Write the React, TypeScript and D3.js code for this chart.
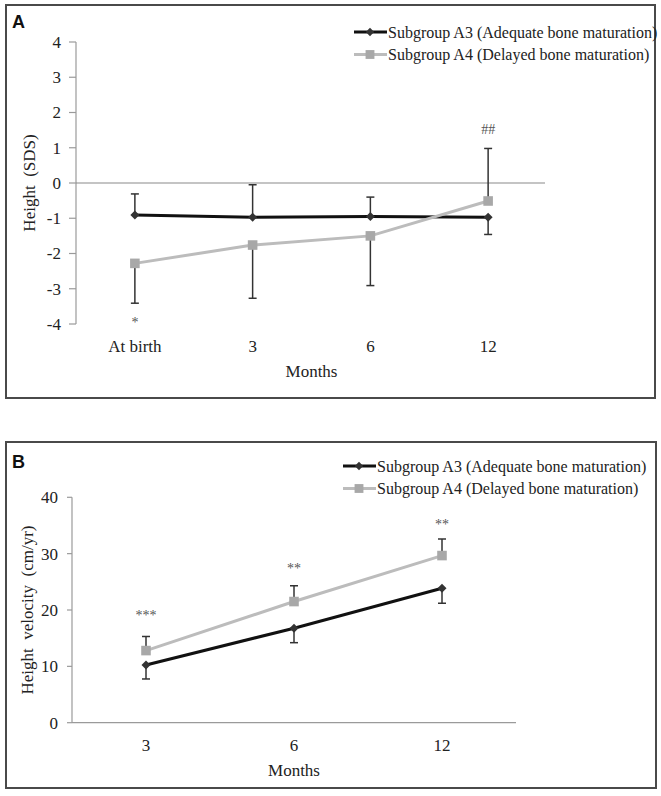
import React from "react";
import * as d3 from "d3";

// ---- Panel A data ----
const catsA = ["At birth", "3", "6", "12"];
const a3Height = [-0.91, -0.97, -0.95, -0.97];
const a3HeightSd = [0.6, 0.92, 0.55, 0.49];
const a3HeightDir = [1, 1, 1, -1];
const a4Height = [-2.28, -1.76, -1.5, -0.51];
const a4HeightSd = [1.13, 1.51, 1.41, 1.49];
const a4HeightDir = [-1, -1, -1, 1];
const annotA = ["*", "", "", "##"];
const ticksA = [4, 3, 2, 1, 0, -1, -2, -3, -4];

// ---- Panel B data ----
const catsB = ["3", "6", "12"];
const a3Velocity = [10.25, 16.77, 23.87];
const a3VelocitySd = [2.49, 2.57, 2.67];
const a3VelocityDir = [-1, -1, -1];
const a4Velocity = [12.8, 21.5, 29.66];
const a4VelocitySd = [2.5, 2.8, 2.94];
const a4VelocityDir = [1, 1, 1];
const annotB = ["***", "**", "**"];
const ticksB = [0, 10, 20, 30, 40];

const legendLabels = [
  "Subgroup A3 (Adequate bone maturation)",
  "Subgroup A4 (Delayed bone maturation)",
];

const SERIF = "Liberation Serif";
const BLACK_LINE = "#111111";
const GRAY_LINE = "#bcbcbc";
const DIAMOND_FILL = "#333333";
const SQUARE_FILL = "#a8a8a8";
const ERR = "#333333";
const AXIS = "#9a9a9a";

type Series = { vals: number[]; sd: number[]; dir: number[]; kind: "diamond" | "square" };

function Marker({ x, y, kind, scale = 1 }: { x: number; y: number; kind: string; scale?: number }) {
  if (kind === "diamond") {
    const p = d3.symbol().type(d3.symbolDiamond2).size(52 * scale)();
    return <path d={p || ""} transform={`translate(${x},${y})`} fill={DIAMOND_FILL} />;
  }
  const p = d3.symbol().type(d3.symbolSquare).size(92 * scale)();
  return <path d={p || ""} transform={`translate(${x},${y})`} fill={SQUARE_FILL} />;
}

function Panel(props: {
  label: string;
  frame: [number, number, number, number];
  cats: string[];
  xRange: [number, number];
  domain: [number, number];
  yRange: [number, number];
  ticks: number[];
  series: Series[];
  annots: string[];
  annotYs: number[];
  zeroLine: boolean;
  yTitle: string;
  yTitleX: number;
  xLabelY: number;
  monthsY: number;
  legendX: number;
  legendY: number;
  labelY: number;
  tickLen: number;
  tickLabelGap: number;
}) {
  const x = d3.scalePoint<string>().domain(props.cats).range(props.xRange).padding(0.5);
  const y = d3.scaleLinear().domain(props.domain).range(props.yRange);
  const line = d3
    .line<number>()
    .x((_, i) => x(props.cats[i]) as number)
    .y((d) => y(d));
  const [fx, fy, fw, fh] = props.frame;
  const axisX = props.xRange[0];
  const yTop = y(props.domain[1]);
  const yBot = y(props.domain[0]);
  const yMid = (yTop + yBot) / 2;
  const colors = [BLACK_LINE, GRAY_LINE];
  return (
    <g>
      <rect x={fx} y={fy} width={fw} height={fh} fill="white" stroke="#4a4a4a" strokeWidth={2} />
      <text x={fx + 6} y={props.labelY} fontFamily="Liberation Sans" fontWeight="bold" fontSize={18} fill="#111">
        {props.label}
      </text>
      {/* y axis */}
      <line x1={axisX} x2={axisX} y1={yTop} y2={yBot} stroke={AXIS} strokeWidth={1.2} />
      {props.ticks.map((t) => (
        <g key={t}>
          <line x1={axisX - props.tickLen} x2={axisX} y1={y(t)} y2={y(t)} stroke={AXIS} strokeWidth={1.2} />
          <text x={axisX - props.tickLabelGap} y={y(t)} dy="0.35em" textAnchor="end" fontFamily={SERIF} fontSize={17} fill="#222">
            {t < 0 ? `-${Math.abs(t)}` : t}
          </text>
        </g>
      ))}
      {props.zeroLine ? (
        <line x1={axisX} x2={props.xRange[1] - 2} y1={y(0)} y2={y(0)} stroke="#8a8a8a" strokeWidth={1.2} />
      ) : (
        <line x1={axisX} x2={props.xRange[1]} y1={y(props.domain[0])} y2={y(props.domain[0])} stroke={AXIS} strokeWidth={1.2} />
      )}
      {/* x labels */}
      {props.cats.map((c) => (
        <text key={c} x={x(c)} y={props.xLabelY} textAnchor="middle" fontFamily={SERIF} fontSize={17} fill="#222">
          {c}
        </text>
      ))}
      <text x={(props.xRange[0] + props.xRange[1]) / 2} y={props.monthsY} textAnchor="middle" fontFamily={SERIF} fontSize={17} fill="#222">
        Months
      </text>
      <text
        transform={`translate(${props.yTitleX},${yMid}) rotate(-90)`}
        textAnchor="middle"
        fontFamily={SERIF}
        fontSize={17}
        fill="#222"
        style={{ whiteSpace: "pre" }}
      >
        {props.yTitle}
      </text>
      {/* error bars */}
      {props.series.map((s, si) =>
        s.vals.map((v, i) => {
          const cx = x(props.cats[i]) as number;
          const end = v + s.dir[i] * s.sd[i];
          return (
            <g key={`e${si}-${i}`}>
              <line x1={cx} x2={cx} y1={y(v)} y2={y(end)} stroke={ERR} strokeWidth={1.5} />
              <line x1={cx - 4} x2={cx + 4} y1={y(end)} y2={y(end)} stroke={ERR} strokeWidth={1.5} />
            </g>
          );
        })
      )}
      {/* lines */}
      {props.series.map((s, si) => (
        <path key={`l${si}`} d={line(s.vals) || ""} fill="none" stroke={colors[si]} strokeWidth={3} />
      ))}
      {props.series.map((s, si) =>
        s.vals.map((v, i) => <Marker key={`m${si}-${i}`} x={x(props.cats[i]) as number} y={y(v)} kind={s.kind} />)
      )}
      {/* annotations */}
      {props.annots.map((a, i) =>
        a ? (
          <text key={`a${i}`} x={x(props.cats[i])} y={props.annotYs[i]} textAnchor="middle" fontFamily={SERIF} fontSize={14} fill="#555">
            {a}
          </text>
        ) : null
      )}
      {/* legend */}
      {legendLabels.map((lab, i) => {
        const ly = props.legendY + i * 22.5;
        const kind = i === 0 ? "diamond" : "square";
        return (
          <g key={lab}>
            <line x1={props.legendX} x2={props.legendX + 33} y1={ly} y2={ly} stroke={colors[i]} strokeWidth={3} />
            <Marker x={props.legendX + 16} y={ly} kind={kind} scale={0.85} />
            <text x={props.legendX + 34} y={ly} dy="0.35em" fontFamily={SERIF} fontSize={16} fill="#222">
              {lab}
            </text>
          </g>
        );
      })}
    </g>
  );
}

export default function App() {
  return (
    <svg width={661} height={796} style={{ position: "absolute", left: 0, top: 0, background: "white" }}>
      <Panel
        label="A"
        frame={[6, 5, 649, 393]}
        cats={catsA}
        xRange={[76, 547]}
        domain={[-4, 4]}
        yRange={[324, 42]}
        ticks={ticksA}
        series={[
          { vals: a3Height, sd: a3HeightSd, dir: a3HeightDir, kind: "diamond" },
          { vals: a4Height, sd: a4HeightSd, dir: a4HeightDir, kind: "square" },
        ]}
        annots={annotA}
        annotYs={[327, 0, 0, 134]}
        zeroLine={true}
        yTitle="Height  (SDS)"
        yTitleX={35}
        xLabelY={352}
        monthsY={377}
        legendX={354}
        legendY={32}
        labelY={28}
        tickLen={7}
        tickLabelGap={15}
      />
      <Panel
        label="B"
        frame={[6, 442, 650, 346]}
        cats={catsB}
        xRange={[72, 516]}
        domain={[0, 40]}
        yRange={[722.7, 497.3]}
        ticks={ticksB}
        series={[
          { vals: a3Velocity, sd: a3VelocitySd, dir: a3VelocityDir, kind: "diamond" },
          { vals: a4Velocity, sd: a4VelocitySd, dir: a4VelocityDir, kind: "square" },
        ]}
        annots={annotB}
        annotYs={[620, 573, 529]}
        zeroLine={false}
        yTitle="Height  velocity  (cm/yr)"
        yTitleX={33}
        xLabelY={751}
        monthsY={776}
        legendX={343}
        legendY={466}
        labelY={468}
        tickLen={5}
        tickLabelGap={14}
      />
    </svg>
  );
}
